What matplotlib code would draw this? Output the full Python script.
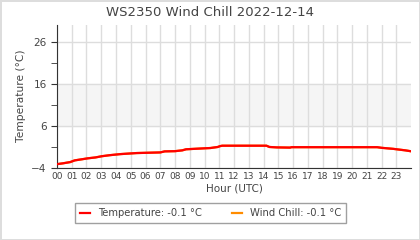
import matplotlib
matplotlib.use("Agg")
import matplotlib.pyplot as plt

# readings (hour UTC, deg C)
hours = [0.0, 0.4, 0.9, 1.2, 1.75, 2.1, 2.6, 3.05, 3.6, 4.3, 5.4, 7.0, 7.3, 8.0,
         8.5, 8.75, 9.55, 10.4, 10.9, 11.05, 11.2, 14.2, 14.4, 14.9, 15.8, 15.9,
         21.7, 22.0, 22.8, 23.25, 23.6, 23.95]
temperature = [-3.2, -3.0, -2.7, -2.3, -2.0, -1.8, -1.6, -1.3, -1.05, -0.8, -0.55,
               -0.4, -0.15, -0.1, 0.1, 0.35, 0.5, 0.65, 0.9, 1.1, 1.2, 1.2, 0.9,
               0.8, 0.75, 0.85, 0.85, 0.7, 0.45, 0.25, 0.1, -0.1]
wind_chill = list(temperature)
hour_labels = ["%02d" % h for h in range(24)]
y_major = [-4, 6, 16, 26]
y_minor = [1, 11, 21]

txt = "#444444"
fig = plt.figure(figsize=(4.2, 2.4), dpi=100)
fig.patch.set_edgecolor("#dddddd")
fig.patch.set_linewidth(2)
ax = fig.add_axes([0.1357, 0.302, 0.843, 0.594])

ax.axhspan(6, 16, color="#f5f5f5", zorder=0)
ax.plot(hours, wind_chill, color="#ff8c00", lw=1.6, zorder=2,
        label="Wind Chill: %.1f °C" % wind_chill[-1])
ax.plot(hours, temperature, color="#ff0000", lw=1.6, zorder=3,
        label="Temperature: %.1f °C" % temperature[-1])

ax.set_xlim(0, 24)
ax.set_ylim(-4, 30)
ax.set_xticks(range(24))
ax.set_xticklabels(hour_labels)
ax.set_yticks(y_major)
ax.set_yticks(y_minor, minor=True)
ax.tick_params(axis="x", length=0, labelsize=6.5, colors=txt, pad=3)
ax.tick_params(axis="y", which="both", length=4, labelsize=7.5, colors=txt, color="#333333")
ax.grid(True, which="major", color="#dddddd", lw=1)
ax.set_axisbelow(True)
for s in ["top", "right"]:
    ax.spines[s].set_visible(False)
for s in ["left", "bottom"]:
    ax.spines[s].set_color("#333333")

ax.set_xlabel("Hour (UTC)", fontsize=7.5, color=txt, labelpad=2)
ax.set_ylabel("Temperature (°C)", fontsize=7.7, color=txt)
fig.suptitle("WS2350 Wind Chill 2022-12-14", fontsize=9.5, color=txt, y=0.975)

h, l = ax.get_legend_handles_labels()
leg = fig.legend(h[::-1], l[::-1], loc="center", bbox_to_anchor=(0.502, 0.112), ncol=2,
                 fontsize=7.2, fancybox=False, edgecolor="#888888", handlelength=1,
                 columnspacing=3.0, borderpad=0.5)
for t in leg.get_texts():
    t.set_color(txt)

fig.savefig("out.png", dpi=100)
